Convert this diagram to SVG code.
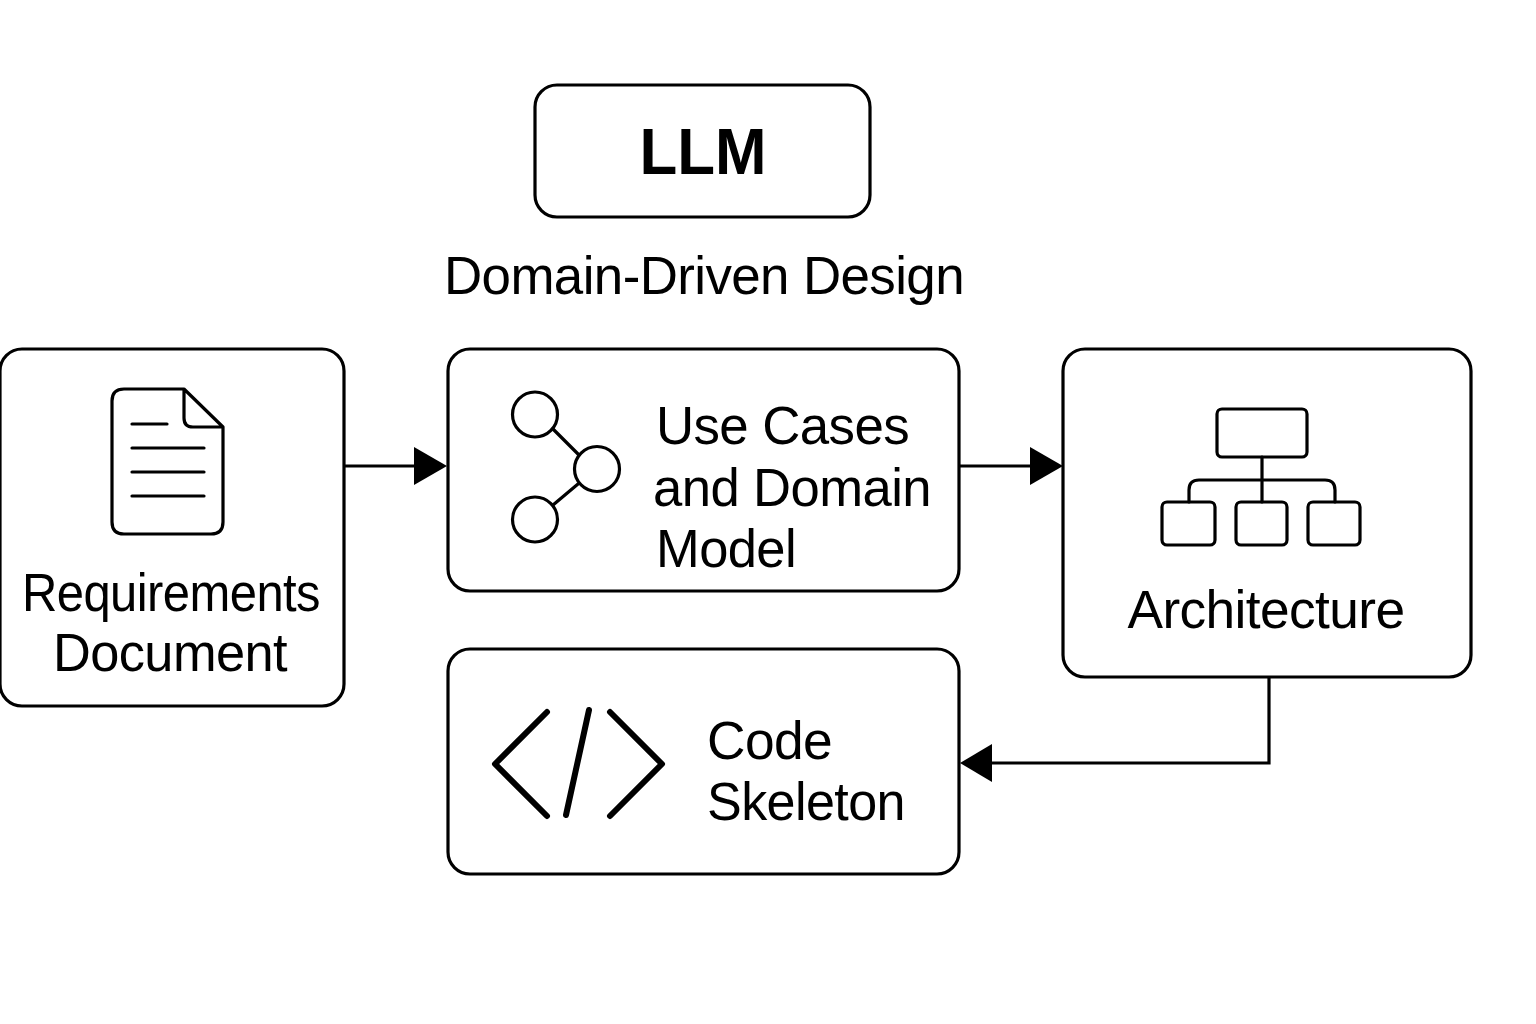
<svg xmlns="http://www.w3.org/2000/svg" width="1536" height="1024" viewBox="0 0 1536 1024">
<style>
.b{fill:#fff;stroke:#000;stroke-width:3.200}
.i{fill:none;stroke:#000;stroke-width:3.200;stroke-linejoin:round;stroke-linecap:round}
.t{font-family:"Liberation Sans",Arial,sans-serif;font-size:53px;fill:#000;letter-spacing:-0.6px}
.c{fill:none;stroke:#000;stroke-width:3.200}
.a{fill:#000}
</style>
<rect width="1536" height="1024" fill="#fff"/>
<g id="llm"><rect class="b" x="535" y="85" width="335" height="132" rx="22"/>
<text x="703" y="174" text-anchor="middle" font-family="Liberation Sans, Arial, sans-serif" font-weight="700" font-size="65" fill="#000" textLength="127" lengthAdjust="spacingAndGlyphs">LLM</text></g>
<g id="ddd-label"><text class="t" x="704" y="294" text-anchor="middle" textLength="520" lengthAdjust="spacingAndGlyphs">Domain-Driven Design</text></g>
<g id="requirements"><rect class="b" x="0" y="349" width="344" height="357" rx="22"/>
<path class="i" d="M184 389H124Q112 389 112 401V522Q112 534 124 534H211Q223 534 223 522V427ZM184 389V418Q184 427 193 427H223"/>
<path class="i" d="M132 424H167M132 448H204M132 472H204M132 496H204"/>
<text class="t" x="171" y="611" text-anchor="middle" textLength="298" lengthAdjust="spacingAndGlyphs">Requirements</text>
<text class="t" x="170" y="671" text-anchor="middle" textLength="234" lengthAdjust="spacingAndGlyphs">Document</text></g>
<g id="usecases"><rect class="b" x="448" y="349" width="511" height="242" rx="22"/>
<circle class="i" cx="535" cy="414.500" r="22.500"/><circle class="i" cx="597" cy="469" r="22.500"/><circle class="i" cx="535" cy="519.500" r="22.500"/>
<path class="i" d="M553 429L579 455M553 505L578 484"/>
<text class="t" x="656" y="444" textLength="253" lengthAdjust="spacingAndGlyphs">Use Cases</text>
<text class="t" x="653" y="506" textLength="278" lengthAdjust="spacingAndGlyphs">and Domain</text>
<text class="t" x="656" y="567" textLength="140" lengthAdjust="spacingAndGlyphs">Model</text></g>
<g id="architecture"><rect class="b" x="1063" y="349" width="408" height="328" rx="22"/>
<rect class="i" x="1217" y="409" width="90" height="48" rx="5"/>
<rect class="i" x="1162" y="502" width="53" height="43" rx="5"/><rect class="i" x="1236" y="502" width="51" height="43" rx="5"/><rect class="i" x="1308" y="502" width="52" height="43" rx="5"/>
<path class="i" d="M1262 457V502M1189 502V490Q1189 480 1199 480H1325Q1335 480 1335 490V502"/>
<text class="t" x="1266" y="628" text-anchor="middle" textLength="277" lengthAdjust="spacingAndGlyphs">Architecture</text></g>
<g id="code"><rect class="b" x="448" y="649" width="511" height="225" rx="22"/>
<path class="i" style="stroke-width:6" d="M547 712L495 764L547 816M610 712L662 764L610 816M589 710L566 815"/>
<text class="t" x="707" y="759" textLength="125" lengthAdjust="spacingAndGlyphs">Code</text>
<text class="t" x="707" y="820" textLength="198" lengthAdjust="spacingAndGlyphs">Skeleton</text></g>
<g id="connectors">
<path class="c" d="M344 466H416"/><path class="a" d="M414 447L447 466L414 485Z"/>
<path class="c" d="M959 466H1032"/><path class="a" d="M1030 447L1063 466L1030 485Z"/>
<path class="c" d="M1269 677V763H990"/><path class="a" d="M992 744L960 763L992 782Z"/>
</g>
</svg>
